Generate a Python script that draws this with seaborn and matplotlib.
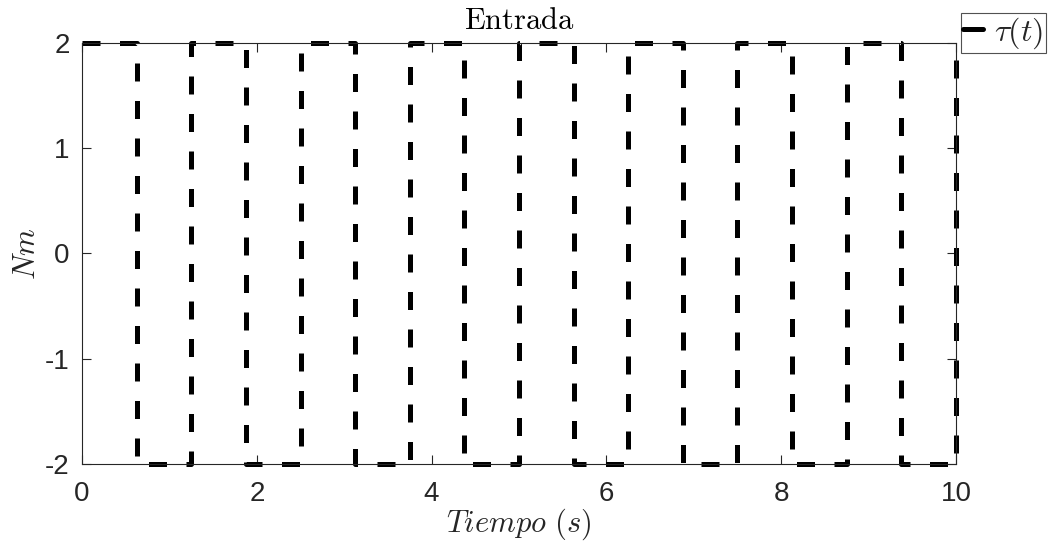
import matplotlib
matplotlib.use("Agg")
import matplotlib.pyplot as plt
import seaborn as sns
import pandas as pd

# Switching instants of the input torque (s) and the level held from each instant (N·m)
switch_times = [0.0, 0.625, 1.25, 1.875, 2.5, 3.125, 3.75, 4.375, 5.0,
                5.625, 6.25, 6.875, 7.5, 8.125, 8.75, 9.375, 10.0]
torque_levels = [2, -2, 2, -2, 2, -2, 2, -2, 2,
                 -2, 2, -2, 2, -2, 2, -2, 2]
x_ticks = [0, 2, 4, 6, 8, 10]
y_ticks = [-2, -1, 0, 1, 2]

df = pd.DataFrame({"t": switch_times, "tau": torque_levels})

sns.set_theme(style="white")
plt.rcParams["font.family"] = ["Liberation Sans", "DejaVu Sans"]
plt.rcParams["mathtext.fontset"] = "cm"

axis_gray = "#262626"

fig = plt.figure(figsize=(10.49, 5.43), dpi=100)
ax = fig.add_axes([0.0782, 0.1455, 0.8331, 0.7753])

sns.lineplot(data=df, x="t", y="tau", ax=ax, color="black", linewidth=3.6,
             drawstyle="steps-post", sort=False, estimator=None,
             label=r"$\tau(t)$")
for ln in ax.get_lines():
    ln.set_dashes((3.6, 3.9))
    ln.set_clip_on(False)

ax.set_xlim(0, 10)
ax.set_ylim(-2, 2)
ax.set_xticks(x_ticks)
ax.set_yticks(y_ticks)
ax.set_xticklabels([str(v) for v in x_ticks])
ax.set_yticklabels([str(v) for v in y_ticks])

for side in ["left", "bottom", "top", "right"]:
    ax.spines[side].set_visible(True)
    ax.spines[side].set_color(axis_gray)
    ax.spines[side].set_linewidth(0.8)

ax.tick_params(axis="both", which="major", direction="in", length=6.5,
               width=0.8, color=axis_gray, labelcolor=axis_gray,
               labelsize=20, top=True, right=True, bottom=True, left=True)
ax.tick_params(axis="x", pad=12)
ax.tick_params(axis="y", pad=9)

ax.set_title(r"$\mathrm{Entrada}$", fontsize=22, color="black", pad=10)
ax.set_xlabel(r"$Tiempo\ (s)$", fontsize=22, color=axis_gray, labelpad=0)
ax.set_ylabel(r"$Nm$", fontsize=22, color=axis_gray, labelpad=2)

leg = ax.legend(loc="upper left", bbox_to_anchor=(1.0057, 1.072),
                frameon=True, fancybox=False, borderaxespad=0,
                fontsize=23, handlelength=0.6, handletextpad=0.35,
                borderpad=0.08)
leg.get_frame().set_edgecolor(axis_gray)
leg.get_frame().set_linewidth(0.8)
for h in leg.get_lines():
    h.set_linestyle("-")
    h.set_linewidth(3.6)

fig.savefig("out.png", dpi=100)
